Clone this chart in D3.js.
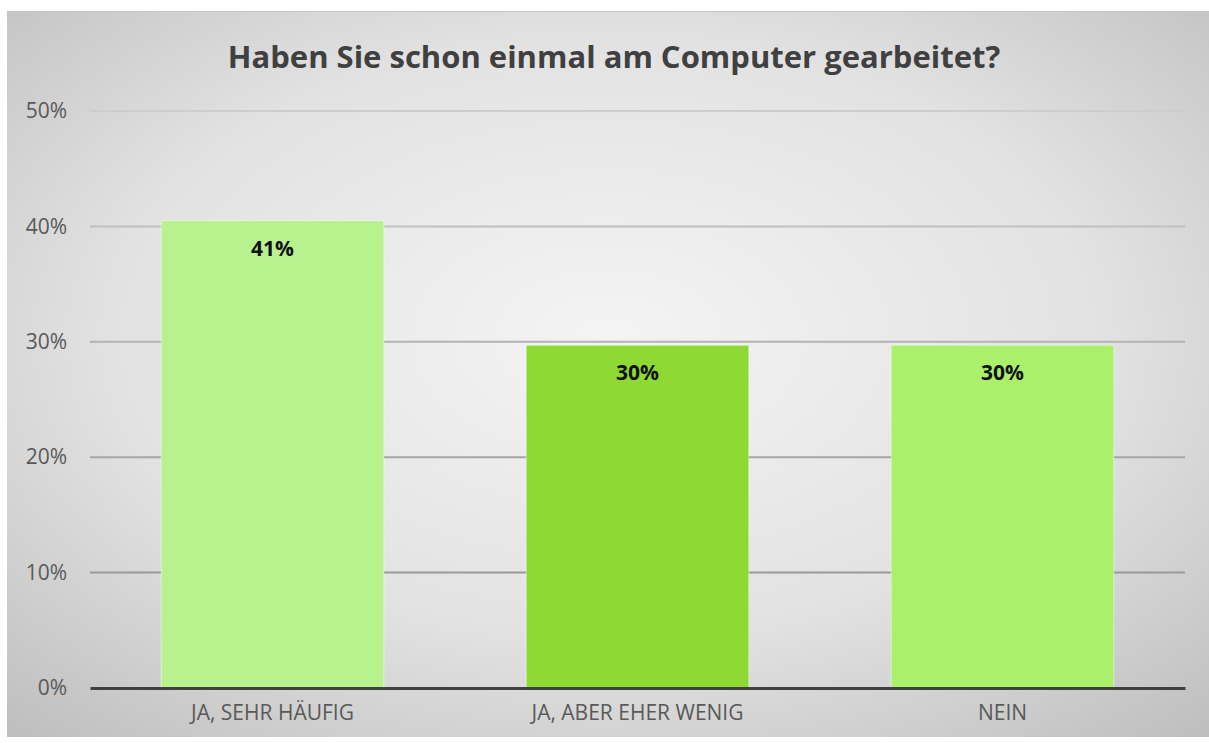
<!DOCTYPE html>
<html>
<head>
<meta charset="utf-8">
<script src="https://cdn.jsdelivr.net/npm/d3@7"></script>
<style>
  html, body { margin: 0; padding: 0; background: #fff; }
  svg { display: block; font-family: "Open Sans", "Noto Sans", sans-serif; }
</style>
</head>
<body>
<div id="chart"></div>
<script>
const categories = ['JA, SEHR HÄUFIG', 'JA, ABER EHER WENIG', 'NEIN'];
const values = [40.5, 29.7, 29.7];
const barColors = ['#b8f28f', '#8fd935', '#aaf06b'];
const yTicks = [0, 10, 20, 30, 40, 50];
const title = 'Haben Sie schon einmal am Computer gearbeitet?';

const W = 1209, H = 743;
const box = { x: 7, y: 11, w: 1202, h: 726 };
const margin = { top: 111, right: 24, bottom: 55, left: 90 };

const svg = d3.select('#chart').append('svg')
    .attr('width', W)
    .attr('height', H);

const defs = svg.append('defs');
const bg = defs.append('radialGradient')
    .attr('id', 'bg')
    .attr('cx', '50%').attr('cy', '45%').attr('r', '75%');
bg.append('stop').attr('offset', '0%').attr('stop-color', '#f4f4f4');
bg.append('stop').attr('offset', '55%').attr('stop-color', '#e2e2e2');
bg.append('stop').attr('offset', '100%').attr('stop-color', '#bdbdbd');

svg.append('rect')
    .attr('x', box.x).attr('y', box.y)
    .attr('width', box.w).attr('height', box.h)
    .attr('fill', 'url(#bg)');
svg.append('line')
    .attr('x1', box.x).attr('x2', box.x + box.w)
    .attr('y1', box.y + 0.5).attr('y2', box.y + 0.5)
    .attr('stroke', '#c4c4c4');

const innerW = W - margin.left - margin.right,
      innerH = 688 - margin.top;

const g = svg.append('g')
    .attr('transform', `translate(${margin.left},${margin.top})`);

const x = d3.scaleBand()
    .domain(categories)
    .range([0, innerW])
    .paddingInner(0.39)
    .paddingOuter(0.195);

const y = d3.scaleLinear()
    .domain([0, 50])
    .range([innerH, 0]);

// gridlines
g.append('g')
    .selectAll('line')
    .data(yTicks.filter(d => d > 0))
    .join('line')
      .attr('x1', 0).attr('x2', innerW)
      .attr('y1', d => y(d)).attr('y2', d => y(d))
      .attr('stroke', d => d3.interpolateRgb('#8c8c8c', '#cdcdcd')(d / 50))
      .attr('stroke-width', 2);

// y axis labels
const yAxis = g.append('g')
    .call(d3.axisLeft(y).tickValues(yTicks).tickFormat(d => d + '%').tickSize(0).tickPadding(23));
yAxis.select('.domain').remove();
yAxis.selectAll('text')
    .attr('fill', '#595959')
    .style('font-size', '21px')
    .style('font-family', '"Open Sans", sans-serif');

// bars
g.append('g')
    .selectAll('rect')
    .data(values)
    .join('rect')
      .attr('x', (d, i) => x(categories[i]))
      .attr('y', d => y(d))
      .attr('width', x.bandwidth())
      .attr('height', d => innerH - y(d))
      .attr('fill', (d, i) => barColors[i])
      .attr('stroke', 'rgba(255,255,255,0.45)')
      .attr('stroke-width', 1);

// value labels
g.append('g')
    .selectAll('text')
    .data(values)
    .join('text')
      .attr('x', (d, i) => x(categories[i]) + x.bandwidth() / 2)
      .attr('y', d => y(d) + 35)
      .attr('text-anchor', 'middle')
      .attr('fill', '#111')
      .style('font-size', '21px')
      .style('font-weight', 'bold')
      .text(d => Math.round(d) + '%');

// x axis
const xAxis = g.append('g')
    .attr('transform', `translate(0,${innerH})`)
    .call(d3.axisBottom(x).tickSize(0).tickPadding(17));
xAxis.select('.domain')
    .attr('stroke', '#404040')
    .attr('stroke-width', 3);
xAxis.selectAll('text')
    .attr('fill', '#595959')
    .style('font-size', '21px')
    .style('font-family', '"Open Sans", sans-serif');

// title
svg.append('text')
    .attr('x', 614)
    .attr('y', 68)
    .attr('text-anchor', 'middle')
    .attr('fill', '#404040')
    .style('font-size', '31px')
    .style('font-weight', 'bold')
    .text(title);
</script>
</body>
</html>
